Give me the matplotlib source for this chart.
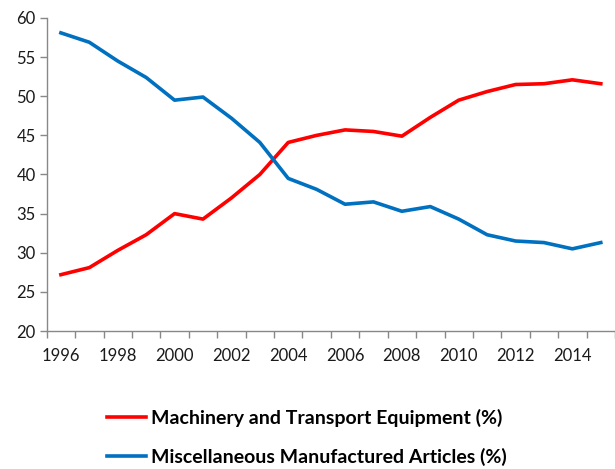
import matplotlib
matplotlib.use("Agg")
import matplotlib.pyplot as plt
import numpy as np

years = list(range(1996, 2016))
machinery = [27.2, 28.1, 30.3, 32.3, 35.0, 34.3, 37.0, 40.0, 44.1, 45.0, 45.7, 45.5, 44.9, 47.3, 49.5, 50.6, 51.5, 51.6, 52.1, 51.6]
misc = [58.1, 56.9, 54.5, 52.4, 49.5, 49.9, 47.2, 44.1, 39.5, 38.1, 36.2, 36.5, 35.3, 35.9, 34.3, 32.3, 31.5, 31.3, 30.5, 31.3]
series_names = ["Machinery and Transport Equipment (%)", "Miscellaneous Manufactured Articles (%)"]
colors = ["#FF0000", "#0070C0"]
yticks = [20, 25, 30, 35, 40, 45, 50, 55, 60]

plt.rcParams['font.family'] = ['Lato', 'DejaVu Sans']

fig = plt.figure(figsize=(6.15, 4.69), dpi=100)
ax = fig.add_axes([46.7/615, 1-331/469, 1-46.7/615, 313/469])

x = np.arange(len(years))
l1, = ax.plot(x, machinery, color=colors[0], lw=2.6, solid_joinstyle='round')
l2, = ax.plot(x, misc, color=colors[1], lw=2.6, solid_joinstyle='round')

ax.set_xlim(-0.5, len(years) - 0.5)
ax.set_ylim(20, 60)
ax.set_yticks(yticks)
ax.set_yticklabels([str(v) for v in yticks], fontsize=12, color='#1a1a1a')
ax.set_xticks(x[::2])
ax.set_xticklabels([str(y) for y in years[::2]], fontsize=12, color='#1a1a1a')
ax.set_xticks(np.arange(-0.5, len(years) + 0.5, 1), minor=True)
ax.tick_params(axis='x', which='major', length=0, pad=12)
ax.tick_params(axis='x', which='minor', length=5, color='#888888', width=1)
ax.tick_params(axis='y', length=5, color='#888888', width=1, pad=3)

for s in ['top', 'right']:
    ax.spines[s].set_visible(False)
for s in ['left', 'bottom']:
    ax.spines[s].set_color('#888888')
    ax.spines[s].set_linewidth(1)

fig.legend([l1, l2], series_names, loc='upper left', bbox_to_anchor=(107/615, 1-409/469),
           frameon=False, prop={'weight': 'bold', 'size': 14}, handlelength=2.0,
           handletextpad=0.25, labelspacing=1.05, borderpad=0, borderaxespad=0)

fig.savefig("out.png", dpi=100)
